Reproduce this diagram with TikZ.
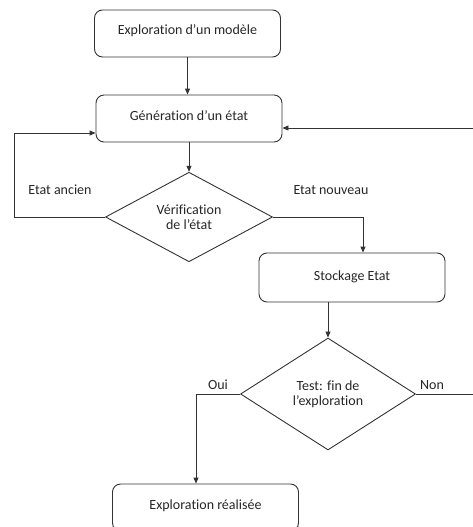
\documentclass[tikz,border=0pt]{standalone}
\usepackage{fontspec}
\setmainfont{Carlito}[Ligatures=NoCommon]
\usetikzlibrary{shapes.geometric,arrows.meta}
\begin{document}
\begin{tikzpicture}[x=1pt,y=-1pt,
  ink/.style={draw=black!80, line width=0.9pt},
  stepbox/.style={ink, rounded corners=8pt, minimum width=186pt, minimum height=47pt,
    inner sep=0pt, text height=11pt, text depth=8pt, text=black!85, font=\fontsize{14}{17}\selectfont},
  test/.style={ink, diamond, inner sep=0pt, align=center, text=black!85,
    font=\fontsize{14}{15}\selectfont},
  arr/.style={ink, -{Triangle[length=6pt,width=5pt]}},
  tag/.style={text=black!85, font=\fontsize{14}{17}\selectfont, inner sep=0pt}]
\useasboundingbox (0,0) rectangle (473,527);

% boxes and decisions
\node[stepbox] (b1) at (187.5,33.5) {Exploration d’un modèle};
\node[stepbox] (b2) at (189,118.5) {Génération d’un état};
\node[test, minimum width=167pt, minimum height=77pt] (d1) at (189,217) {Vérification\\de l’état};
\node[stepbox, minimum height=49pt, text height=13pt, text depth=8pt] (b3) at (352,277.5) {Stockage Etat};
\node[test, minimum width=175pt, minimum height=112pt] (d2) at (328,394) {Test: fin de\\l’exploration};
\node[stepbox] (b4) at (205.5,507.5) {Exploration réalisée};

% routing points
\coordinate (lx) at (14,217);
\coordinate (rx) at (490,394);

% connectors
\draw[arr] (b1.south) -- (b1.south |- b2.north);
\draw[arr] (b2.south) -- (d1.north);
\draw[arr] (d1.west) -- (lx) |- ([yshift=-14.5pt]b2.west);
\draw[arr] (d1.east) -| ([xshift=11pt]b3.north);
\draw[arr] (b3.south -| d2.north) -- (d2.north);
\draw[arr] (d2.west) -| ([xshift=-9.5pt]b4.north);
\draw[arr] (d2.east) -- (rx) |- ([yshift=-9.5pt]b2.east);

% branch labels
\node[tag] (lold) at (60,190) {Etat ancien};
\node[tag] (lnew) at (331,190) {Etat nouveau};
\node[tag] (lyes) at (218,385) {Oui};
\node[tag] (lno) at (432,385) {Non};
\end{tikzpicture}
\end{document}
